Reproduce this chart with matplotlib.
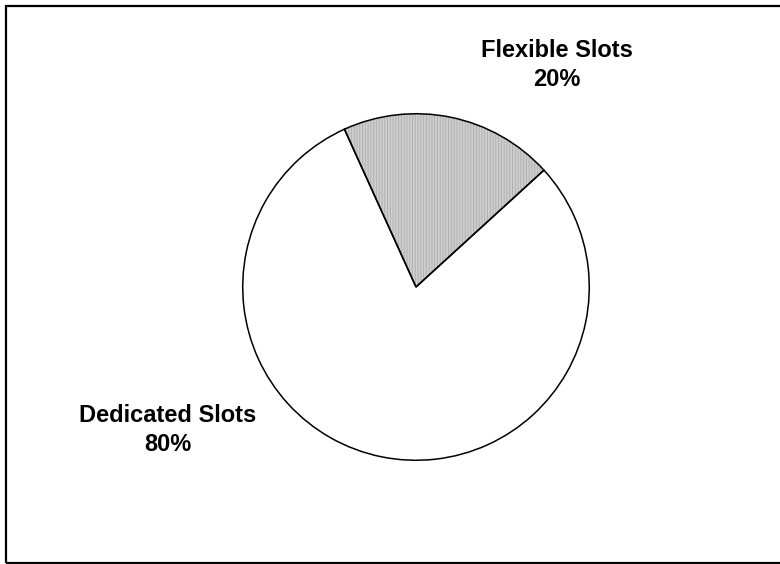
import matplotlib.pyplot as plt
import matplotlib as mpl

plt.rcParams['font.family'] = ['Liberation Sans', 'DejaVu Sans']
mpl.rcParams['hatch.linewidth'] = 0.7

labels = ['Flexible Slots', 'Dedicated Slots']
shares = [20, 80]

W, H = 780, 564
fig = plt.figure(figsize=(W / 100, H / 100), dpi=100)

# outer border (right edge falls just past the image)
fig.add_artist(plt.Rectangle((6 / W, 1.5 / H), 780 / W, 557 / H, transform=fig.transFigure,
                             fill=False, lw=1.6, ec='black'))

# pie area: centre (416, 287), radius 175 px
cx, cy, r = 416, 287, 175
ax = fig.add_axes([(cx - r) / W, (H - cy - r) / H, 2 * r / W, 2 * r / H])

# fill layer: hatch takes the edge colour, so keep it light grey here
fill, _ = ax.pie(shares, startangle=42.4, counterclock=True,
                 colors=['#cfcfcf', 'white'],
                 wedgeprops=dict(edgecolor='#b0b0b0', linewidth=0))
fill[0].set_hatch('||||||')

# outline layer
ax.pie(shares, startangle=42.4, counterclock=True,
       wedgeprops=dict(facecolor='none', edgecolor='black', linewidth=1.1))

ax.set_xlim(-1.01, 1.01)
ax.set_ylim(-1.01, 1.01)
ax.axis('off')

fig.text(557 / W, 1 - 65 / H, f'{labels[0]}\n{shares[0]}%', ha='center', va='center',
         fontsize=17, fontweight='bold', linespacing=1.28)
fig.text(168 / W, 1 - 430 / H, f'{labels[1]}\n{shares[1]}%', ha='center', va='center',
         fontsize=17, fontweight='bold', linespacing=1.28)

fig.savefig('out.png', dpi=100)
